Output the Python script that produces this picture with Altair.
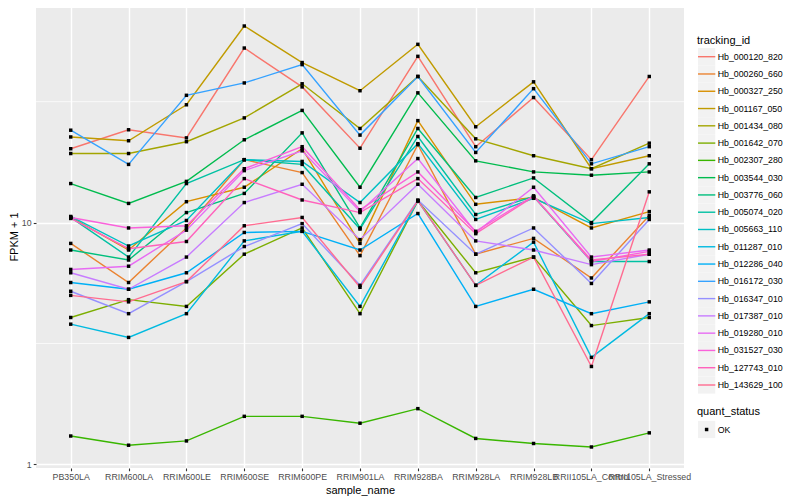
import altair as alt
import pandas as pd

FONT = "Liberation Sans"

samples = ["PB350LA", "RRIM600LA", "RRIM600LE", "RRIM600SE", "RRIM600PE", "RRIM901LA",
           "RRIM928BA", "RRIM928LA", "RRIM928LB", "RRII105LA_Control", "RRII105LA_Stressed"]

tracking_ids = ["Hb_000120_820", "Hb_000260_660", "Hb_000327_250", "Hb_001167_050",
                "Hb_001434_080", "Hb_001642_070", "Hb_002307_280", "Hb_003544_030",
                "Hb_003776_060", "Hb_005074_020", "Hb_005663_110", "Hb_011287_010",
                "Hb_012286_040", "Hb_016172_030", "Hb_016347_010", "Hb_017387_010",
                "Hb_019280_010", "Hb_031527_030", "Hb_127743_010", "Hb_143629_100"]

colors = ["#F8766D", "#EA8331", "#D89000", "#C09B00", "#A3A500", "#7CAE00", "#39B600",
          "#00BB4E", "#00BF7D", "#00C1A3", "#00BFC4", "#00BAE0", "#00B0F6", "#35A2FF",
          "#9590FF", "#C77CFF", "#E76BF3", "#FA62DB", "#FF62BC", "#FF6C91"]

# FPKM + 1 values per gene, in sample order
hb_000120_820 = [20.2, 24.2, 22.4, 52.7, 36.4, 20.3, 48.7, 20.6, 32.9, 18.2, 40.2]
hb_000260_660 = [8.2, 5.65, 9.5, 18.2, 16.1, 7.3, 21.0, 7.4, 8.6, 5.9, 10.7]
hb_000327_250 = [10.5, 7.7, 12.2, 14.0, 20.2, 8.2, 26.4, 11.9, 12.7, 9.5, 11.1]
hb_001167_050 = [22.6, 21.8, 30.7, 65.0, 45.9, 35.1, 54.6, 24.9, 38.2, 16.7, 18.9]
hb_001434_080 = [19.3, 19.3, 21.6, 27.1, 37.5, 24.5, 40.2, 22.2, 18.9, 16.7, 21.3]
hb_001642_070 = [4.05, 4.8, 4.5, 7.4, 9.5, 4.2, 12.3, 6.2, 7.2, 3.75, 4.05]
hb_002307_280 = [1.31, 1.20, 1.25, 1.58, 1.58, 1.48, 1.70, 1.28, 1.22, 1.18, 1.35]
hb_003544_030 = [14.5, 12.0, 14.8, 22.0, 29.1, 14.0, 34.4, 18.0, 16.2, 15.7, 16.2]
hb_003776_060 = [7.7, 7.0, 11.0, 13.2, 23.5, 9.5, 24.5, 12.7, 15.3, 10.0, 17.5]
hb_005074_020 = [10.5, 7.2, 14.5, 18.2, 17.4, 9.4, 22.7, 10.8, 12.8, 6.9, 6.9]
hb_005663_110 = [10.6, 8.0, 10.2, 18.2, 17.9, 12.1, 21.2, 10.3, 12.6, 9.9, 10.5]
hb_011287_010 = [3.8, 3.35, 4.2, 8.4, 9.2, 4.5, 12.3, 5.5, 8.3, 2.77, 4.2]
hb_012286_040 = [5.65, 5.3, 6.2, 9.1, 9.2, 7.7, 10.9, 4.5, 5.3, 4.2, 4.7]
hb_016172_030 = [24.1, 17.4, 33.6, 37.8, 45.0, 23.0, 40.2, 19.5, 35.8, 17.5, 20.6]
hb_016347_010 = [5.2, 4.2, 5.7, 7.96, 9.9, 5.5, 12.4, 7.4, 9.5, 5.6, 10.3]
hb_017387_010 = [6.2, 5.3, 7.2, 12.1, 14.4, 8.5, 14.4, 8.4, 7.7, 6.7, 7.4]
hb_019280_010 = [6.4, 6.6, 9.3, 16.4, 19.8, 11.1, 18.4, 9.1, 14.0, 7.2, 7.7]
hb_031527_030 = [10.5, 9.5, 9.7, 16.7, 20.6, 11.3, 16.2, 9.2, 12.9, 6.9, 7.6]
hb_127743_010 = [10.4, 7.8, 8.35, 15.2, 12.4, 11.0, 15.2, 9.0, 12.8, 7.0, 7.4]
hb_143629_100 = [5.0, 4.7, 5.7, 9.7, 10.5, 5.4, 12.3, 5.5, 7.2, 2.54, 13.4]

series = [hb_000120_820, hb_000260_660, hb_000327_250, hb_001167_050, hb_001434_080,
          hb_001642_070, hb_002307_280, hb_003544_030, hb_003776_060, hb_005074_020,
          hb_005663_110, hb_011287_010, hb_012286_040, hb_016172_030, hb_016347_010,
          hb_017387_010, hb_019280_010, hb_031527_030, hb_127743_010, hb_143629_100]

minor_breaks = [3.1623, 31.623]
y_ticks = [1, 10]

rows = []
for tid, vals in zip(tracking_ids, series):
    for s, v in zip(samples, vals):
        rows.append({"sample_name": s, "tracking_id": tid, "fpkm": v, "quant_status": "OK"})
df = pd.DataFrame(rows)

color_scale = alt.Scale(domain=tracking_ids, range=colors)
y_scale = alt.Scale(type="log", domain=[0.966, 79.4], nice=False, zero=False)
x_scale = alt.Scale(type="point", padding=0.6)

x_axis = alt.Axis(title="sample_name", labelAngle=0, labelOverlap=False, labelFlush=False,
                  labelColor="#4D4D4D", labelFontSize=8.8, labelPadding=2.2, labelFont=FONT,
                  tickColor="#333333", tickSize=2.75, tickWidth=1.1,
                  grid=True, gridColor="white", gridWidth=1.4, domain=False,
                  titleFontSize=11, titleFontWeight="normal", titleColor="black",
                  titleFont=FONT, titlePadding=3)
y_axis = alt.Axis(title="FPKM + 1", values=y_ticks, format="d", labelOverlap=False,
                  labelColor="#4D4D4D", labelFontSize=8.8, labelPadding=2.2, labelFont=FONT,
                  tickColor="#333333", tickSize=2.75, tickWidth=1.1,
                  grid=True, gridColor="white", gridWidth=1.4, domain=False,
                  titleFontSize=11, titleFontWeight="normal", titleColor="black",
                  titleFont=FONT, titlePadding=1.5)

x_enc = alt.X("sample_name:O", sort=samples, scale=x_scale, axis=x_axis)

minor_df = pd.DataFrame({"fpkm": minor_breaks})
minor = alt.Chart(minor_df).mark_rule(color="white", strokeWidth=0.7).encode(
    y=alt.Y("fpkm:Q", scale=y_scale, axis=y_axis)
)

lines = alt.Chart(df).mark_line(strokeWidth=1.4).encode(
    x=x_enc,
    y=alt.Y("fpkm:Q", scale=y_scale, axis=y_axis),
    color=alt.Color("tracking_id:N", scale=color_scale, legend=None),
    detail="tracking_id:N",
)

points = alt.Chart(df).mark_square(color="black", size=12, opacity=1).encode(
    x=x_enc,
    y=alt.Y("fpkm:Q", scale=y_scale, axis=y_axis),
)

main = alt.layer(minor, lines, points).properties(
    width=648, height=463,
    view=alt.ViewBackground(fill="#EBEBEB", strokeWidth=0),
)

# ---- custom ggplot-like legends ----
leg_df = pd.DataFrame({"tracking_id": tracking_ids, "idx": list(range(len(tracking_ids)))})
ly = alt.Y("idx:Q", scale=alt.Scale(domain=[0, 19], range=[51.7, 380.0]), axis=None)

keys = alt.Chart(leg_df).mark_square(size=298, color="#F2F2F2", opacity=1).encode(
    x=alt.value(22.6), y=ly
)
key_lines = alt.Chart(leg_df).mark_rule(strokeWidth=1.4).encode(
    x=alt.value(14), x2=alt.value(31.3), y=ly,
    color=alt.Color("tracking_id:N", scale=color_scale, legend=None),
)
key_text = alt.Chart(leg_df).mark_text(align="left", baseline="middle", fontSize=8.8,
                                       font=FONT, color="black").encode(
    x=alt.value(33.7), y=ly, text="tracking_id:N"
)
title1 = alt.Chart(pd.DataFrame({"t": ["tracking_id"]})).mark_text(
    align="left", baseline="middle", fontSize=11, font=FONT, color="black"
).encode(x=alt.value(13), y=alt.value(35.7), text="t:N")

qs_df = pd.DataFrame({"t": ["quant_status"], "lab": ["OK"]})
title2 = alt.Chart(qs_df).mark_text(
    align="left", baseline="middle", fontSize=11, font=FONT, color="black"
).encode(x=alt.value(13), y=alt.value(407.3), text="t:N")
qs_key = alt.Chart(qs_df).mark_square(size=298, color="#F2F2F2", opacity=1).encode(
    x=alt.value(22.6), y=alt.value(424.5)
)
qs_pt = alt.Chart(qs_df).mark_square(size=12, color="black", opacity=1).encode(
    x=alt.value(22.6), y=alt.value(424.5)
)
qs_text = alt.Chart(qs_df).mark_text(
    align="left", baseline="middle", fontSize=8.8, font=FONT, color="black"
).encode(x=alt.value(33.7), y=alt.value(424.5), text="lab:N")

legend = alt.layer(keys, key_lines, key_text, title1, title2, qs_key, qs_pt, qs_text).properties(
    width=108, height=463,
    view=alt.ViewBackground(strokeWidth=0),
)

chart = alt.hconcat(main, legend, spacing=0, bounds="flush").properties(
    padding={"left": 0, "top": -3, "right": 0, "bottom": 0}
).configure(font=FONT).configure_view(strokeWidth=0)

chart.save("out.html", embed_options={"renderer": "svg", "actions": False})
